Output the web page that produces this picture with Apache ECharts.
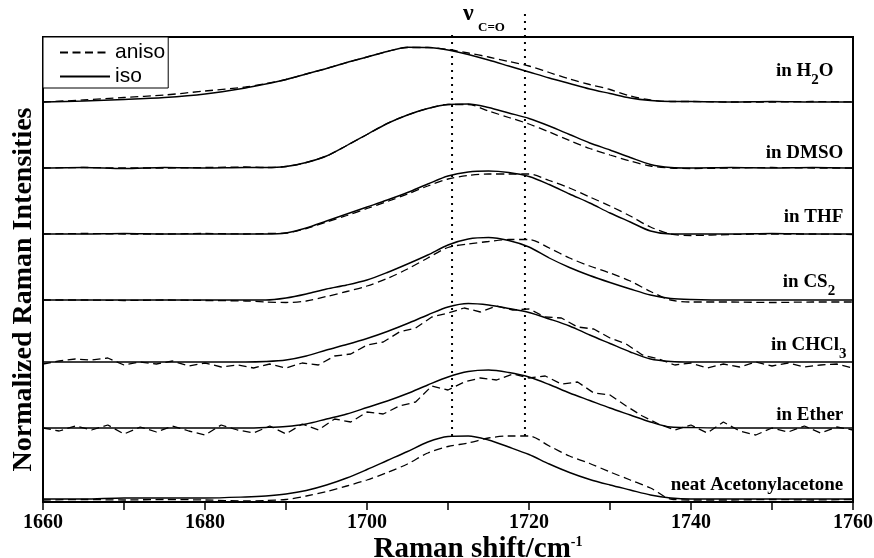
<!DOCTYPE html>
<html><head><meta charset="utf-8">
<script src="https://cdn.jsdelivr.net/npm/echarts@6/dist/echarts.min.js"></script>
<style>html,body{margin:0;padding:0;background:#fff}#c{width:874px;height:558px}</style>
</head><body><div id="c"></div>
<script>
// Raman shift sampling (cm^-1)
const shift = [1660,1665,1670,1675,1680,1685,1687.5,1690,1692.5,1695,1697.5,1700,1702.5,1705,1707.5,1710,1712.5,1715,1717.5,1720,1722.5,1725,1727.5,1730,1732.5,1735,1737.5,1740,1745,1750,1755,1760];
const shiftFine = [1660,1662,1664,1666,1668,1670,1672,1674,1676,1678,1680,1682,1684,1686,1688,1690,1692,1694,1696,1698,1700,1702,1704,1706,1708,1710,1712,1714,1716,1718,1720,1722,1724,1726,1728,1730,1732,1734,1736,1738,1740,1742,1744,1746,1748,1750,1752,1754,1756,1758,1760];

// vertical offsets of the stacked spectra (arb. units)
const offNeat = 2, offEther = 74, offCHCl3 = 140, offCS2 = 202, offTHF = 268, offDMSO = 334, offH2O = 400;
const yMax = 465;

// intensities above each baseline (arb. units)
const h2oIso     = [0,1,2.5,4.5,8,14,18,22.5,28,33.5,39.5,45,50.5,54.8,54.5,52,47.5,42,36,30,24,18.5,13,8.5,4,1.5,0.5,0.5,0,0.5,0,0];
const h2oAniso   = [0,2,4.5,7,11,15,18.5,22.5,28,33.5,39.5,45,50.5,54.5,54.5,52.5,49,45,40.5,36,29.5,23,17.5,12.5,6,2,0.5,0.5,0,0,0.5,0];
const dmsoIso    = [0,0.5,-0.5,0.5,0,0.5,0.5,1.5,5.5,12,22.5,33.5,44.5,53,59.5,63.5,64,60.5,55,49.5,42,33.5,25,18,10.5,3.5,0.5,0,0.5,0,0.5,0];
const dmsoAniso  = [0,0.5,0,0,0.5,1,0.5,1.5,5.5,12,22.5,33.5,44.5,53,59.5,63.5,63.5,57,50.5,44,36,27.5,19.5,13,7,2,0,-0.5,0,0.5,0,0];
const thfIso     = [0,0,0.5,0,0,0,0,1,6,13,20,27,34,41.5,50,58,62,63,61.5,57.5,49.5,40,31,21,12,3,0,0,0,0.5,0,0];
const thfAniso   = [0,0.5,0,0,0.5,0,0.5,1,5.5,12,18.5,25.5,32.5,40,48,55,58.5,60,60,60,53.5,46,37,28,18,7,0,-1.5,-0.5,0,0,-0.5];
const cs2Iso     = [0,0,0,0,0,0,0,2,6,11,15,20,27.5,36,45,55,61,62.5,59.5,53,42,32.5,24.5,17.5,11,5,1.5,0.5,0,0,0,0];
const cs2Aniso   = [0,0,-0.5,0,-0.5,-1,-2,-2.5,-1,3.5,8.5,14,21.5,31,42,52.5,56,58.5,60.5,60.5,52,42,34,27,19,8.5,0,-2,-2,-2.5,-2,-2];
const chcl3Iso   = [0,0,0,0,0,0,0.5,2,6,12,17.5,23.5,30.5,38.5,47,55,58.5,57,53.5,49.5,43,36,27,18.5,10,3,0.5,0,0,0,0,0];
const chcl3Aniso = [-2,1,3,2,4,-3,0,-2,1,-4,-1,-5,-3,-6,-2,-6,-1,-3,6,8,17,20,30,34,45,49,54,50,56,52,53,45,44,35,33,24,18,7,3,-3,-1,-6,-2,-5,0,-4,-1,-5,-3,-2,-6];
const etherIso   = [0,0,0,0,0,0,0.5,1.5,4,9,14,20.5,27,34.5,43,51,56.5,58,55.5,51,43.5,35,27.5,20,13,6,1,0.5,0,0,0,0];
const etherAniso = [0,-3,2,-2,3,-6,1,-4,2,-3,-7,3,-2,-5,2,-6,4,-2,9,6,16,14,22,26,42,38,46,50,48,54,50,52,44,46,35,33,22,12,4,-2,3,-5,6,-3,-7,0,-4,2,-5,1,-2];
const neatIso    = [1,1,2,2,2,3,4,6,9.5,15,22,30.5,39.5,48.5,58,63.5,64,60,53,45.5,36,27.5,20.5,15,10,5,2,1,1,1,1,1];
const neatAniso  = [0,0.5,0,0.5,0,-1,-0.5,0.5,4,8.5,14,20,27.5,36,47,53.5,57,62,64,64,54,44,36.5,28,20,12,1,0,0,0.5,0,0.5];

// C=O marker lines
const markerShift = [1710.5, 1719.5];
const markerTop = [471, 492];
const markerBottom = 66;

const tickLabels = ['1660','1680','1700','1720','1740','1760'];

const serif = "'Liberation Serif','Times New Roman',serif";
const spectra = [
  {label:'{m|in H}{s|2}{m|O}', off: offH2O, iso: h2oIso, aniso: h2oAniso, ax: shift, lx: 1757.6, lift: 27},
  {label:'{m|in DMSO}', off: offDMSO, iso: dmsoIso, aniso: dmsoAniso, ax: shift, lx: 1758.8, lift: 14},
  {label:'{m|in THF}', off: offTHF, iso: thfIso, aniso: thfAniso, ax: shift, lx: 1758.8, lift: 16.5},
  {label:'{m|in CS}{s|2}', off: offCS2, iso: cs2Iso, aniso: cs2Aniso, ax: shift, lx: 1757.8, lift: 14.5},
  {label:'{m|in CHCl}{s|3}', off: offCHCl3, iso: chcl3Iso, aniso: chcl3Aniso, ax: shiftFine, lx: 1759.2, lift: 13},
  {label:'{m|in Ether}', off: offEther, iso: etherIso, aniso: etherAniso, ax: shiftFine, lx: 1758.8, lift: 12},
  {label:'{m|neat Acetonylacetone}', off: offNeat, iso: neatIso, aniso: neatAniso, ax: shift, lx: 1758.8, lift: 14.5}
];

const labelRich = {
  m: {fontFamily: serif, fontWeight: 'bold', fontSize: 19, color: '#000', lineHeight: 20, verticalAlign: 'top'},
  s: {fontFamily: serif, fontWeight: 'bold', fontSize: 15, color: '#000', lineHeight: 26, verticalAlign: 'bottom'}
};

const series = [];
spectra.forEach(sp => {
  const noisy = sp.ax === shiftFine;
  series.push({
    name: 'aniso', type: 'line', showSymbol: false, symbol: 'none',
    smooth: noisy ? false : 0.3,
    data: sp.ax.map((x, i) => [x, sp.off + sp.aniso[i]]),
    lineStyle: {color: '#000', width: 1.3, type: [8, 4.5]},
    itemStyle: {color: '#000'}, z: 3
  });
  series.push({
    name: 'iso', type: 'line', showSymbol: false, symbol: 'none', smooth: 0.3,
    data: shift.map((x, i) => [x, sp.off + sp.iso[i]]),
    lineStyle: {color: '#000', width: 1.4, type: 'solid'},
    itemStyle: {color: '#000'}, z: 4,
    markPoint: {
      symbol: 'circle', symbolSize: 0, silent: true, animation: false,
      data: [{coord: [sp.lx, sp.off + sp.lift]}],
      label: {show: true, position: 'left', distance: 0, formatter: sp.label, rich: labelRich}
    }
  });
});
markerShift.forEach((x, k) => {
  series.push({
    name: 'marker', type: 'line', showSymbol: false, symbol: 'none', clip: false, silent: true,
    data: [[x, markerBottom], [x, markerTop[k]]],
    lineStyle: {color: '#000', width: 2, type: [2, 5]}, z: 2
  });
});

const chart = echarts.init(document.getElementById('c'));
chart.setOption({
  animation: false,
  backgroundColor: '#fff',
  grid: {left: 43, right: 21, top: 37, bottom: 56, outerBoundsMode: 'none', containLabel: false,
    show: true, borderColor: '#000', borderWidth: 2, backgroundColor: 'transparent'},
  legend: {
    data: ['aniso', 'iso'], orient: 'vertical', left: 43, top: 37,
    itemWidth: 50, itemHeight: 14, itemGap: 3, padding: [5, 3, 1, 16],
    borderColor: '#000', borderWidth: 1, backgroundColor: '#fff',
    itemStyle: {opacity: 0},
    textStyle: {fontFamily: "'Liberation Sans',Arial,sans-serif", fontSize: 21, color: '#000'},
    selectedMode: false
  },
  xAxis: {
    type: 'value', min: 1660, max: 1760, interval: 20,
    name: '{a|Raman shift/cm}{b|-1}', nameLocation: 'middle', nameGap: 33, nameMoveOverlap: false,
    nameTextStyle: {padding: [0, 0, 0, 60], rich: {
      a: {fontFamily: serif, fontWeight: 'bold', fontSize: 29, color: '#000', lineHeight: 30},
      b: {fontFamily: serif, fontWeight: 'bold', fontSize: 14, color: '#000', lineHeight: 14, verticalAlign: 'top'}
    }},
    axisLine: {show: true, lineStyle: {color: '#000', width: 2}},
    axisTick: {show: true, inside: false, length: 8, lineStyle: {color: '#000', width: 1.5}},
    minorTick: {show: true, splitNumber: 2, length: 8, lineStyle: {color: '#000', width: 1.5}},
    axisLabel: {margin: 11, fontFamily: serif, fontWeight: 'bold', fontSize: 20, color: '#000',
      formatter: v => tickLabels.includes(String(v)) ? String(v) : ''},
    splitLine: {show: false}, minorSplitLine: {show: false}
  },
  yAxis: {
    type: 'value', min: 0, max: yMax,
    name: 'Normalized Raman Intensities', nameLocation: 'middle', nameGap: 5, nameMoveOverlap: false,
    nameTextStyle: {fontFamily: serif, fontWeight: 'bold', fontSize: 28, color: '#000', padding: [0, 40, 0, 0]},
    axisLine: {show: true, lineStyle: {color: '#000', width: 2}},
    axisTick: {show: false}, axisLabel: {show: false}, splitLine: {show: false}
  },
  graphic: [
    {type: 'text', left: 463, top: 2, style: {text: 'ν', font: "bold 24px 'Liberation Serif','Times New Roman',serif", fill: '#000'}},
    {type: 'text', left: 478, top: 21, style: {text: 'C=O', font: "bold 13px 'Liberation Serif','Times New Roman',serif", fill: '#000'}}
  ],
  series: series
});
</script></body></html>
